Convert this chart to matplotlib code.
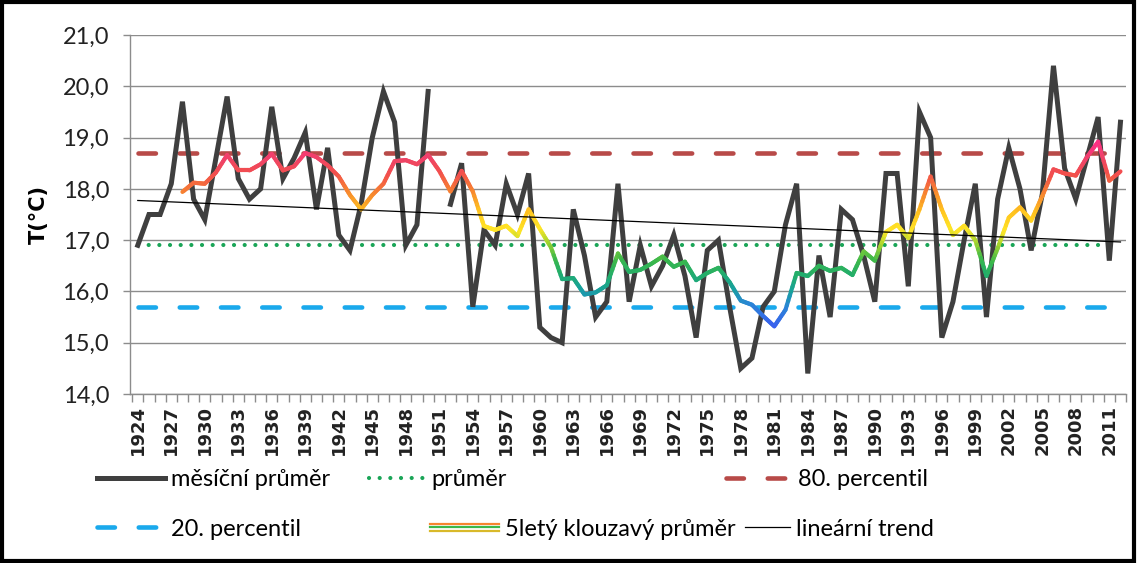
import matplotlib
matplotlib.use("Agg")
import matplotlib.pyplot as plt
import numpy as np
import pandas as pd
from matplotlib.collections import LineCollection
from matplotlib.colors import LinearSegmentedColormap
from matplotlib.legend_handler import HandlerBase
from matplotlib.lines import Line2D
from matplotlib.patches import Rectangle
from matplotlib.ticker import FuncFormatter

plt.rcParams['font.family'] = ['Lato', 'DejaVu Sans']

# data
years = list(range(1924, 2013))
temps = [16.9, 17.5, 17.5, 18.1, 19.7, 17.8, 17.4, 18.6, 19.8, 18.2,   # 1924-1933
         17.8, 18.0, 19.6, 18.2, 18.6, 19.1, 17.6, 18.8, 17.1, 16.8,   # 1934-1943
         17.7, 19.0, 19.9, 19.3, 16.9, 17.3, 19.9, np.nan, 17.7, 18.5,  # 1944-1953
         15.7, 17.2, 16.9, 18.1, 17.5, 18.3, 15.3, 15.1, 15.0, 17.6,   # 1954-1963
         16.7, 15.5, 15.8, 18.1, 15.8, 16.9, 16.1, 16.5, 17.1, 16.3,   # 1964-1973
         15.1, 16.8, 17.0, 15.7, 14.5, 14.7, 15.7, 16.0, 17.3, 18.1,   # 1974-1983
         14.4, 16.7, 15.5, 17.6, 17.4, 16.7, 15.8, 18.3, 18.3, 16.1,   # 1984-1993
         19.5, 19.0, 15.1, 15.8, 17.0, 18.1, 15.5, 17.8, 18.8, 18.0,   # 1994-2003
         16.8, 17.9, 20.4, 18.4, 17.8, 18.6, 19.4, 16.6, 19.3]         # 2004-2012
mean_val = 16.9
p80_val = 18.7
p20_val = 15.7
ref_years = list(range(1924, 2012))
label_years = list(range(1924, 2012, 3))

s = pd.Series(temps, index=years)
# 5-year trailing moving average (blanks ignored, like AVERAGE in Excel)
ma = s.rolling(5, min_periods=1).mean()
ma.iloc[:4] = np.nan
ok = s.notna()
k, q = np.polyfit(np.array(years)[ok.values], s[ok].values, 1)
trend = k * np.array(years) + q

fig = plt.figure(figsize=(11.38, 5.63), dpi=100)
ax = fig.add_axes([0.1142, 0.3002, 0.8753, 0.6376])

grid_c = '#8c8c8c'
for v in range(14, 22):
    ax.axhline(v, color=grid_c, lw=1.0, zorder=0)

ones = np.ones(len(ref_years))
ax.plot(ref_years, ones * p20_val, color='#1aa9ec', lw=3.3,
        linestyle=(0, (3.8, 5.2)), dash_capstyle='round', zorder=2)
ax.plot(ref_years, ones * p80_val, color='#b84a48', lw=3.3,
        linestyle=(0, (3.8, 5.2)), dash_capstyle='round', zorder=2)
ax.plot(ref_years, ones * mean_val, color='#1aa557', lw=3.0,
        linestyle=(0, (0.01, 2.55)), dash_capstyle='round', zorder=2)

ax.plot(years, s.values, color='#3f3f3f', lw=3.6, solid_joinstyle='miter', zorder=3)

# gradient coloured moving average
cmap = LinearSegmentedColormap.from_list('ma', [
    (0.00, '#3a5ef0'), (0.12, '#2a86d6'), (0.20, '#17a19c'), (0.28, '#22ad6c'),
    (0.36, '#3cb84a'), (0.45, '#a6d52e'), (0.52, '#ffe627'), (0.62, '#ffc21f'),
    (0.72, '#f7862f'), (0.82, '#f2504c'), (0.90, '#ef4367'), (1.00, '#ff2d8a')])
lo, hi = 15.3, 18.95
mx = np.array(years, dtype=float)[ma.notna().values]
my = ma.dropna().values
segs, cols = [], []
for i in range(len(mx) - 1):
    xs = np.linspace(mx[i], mx[i + 1], 9)
    ys = np.linspace(my[i], my[i + 1], 9)
    for j in range(8):
        segs.append([(xs[j], ys[j]), (xs[j + 1], ys[j + 1])])
        cols.append(cmap((0.5 * (ys[j] + ys[j + 1]) - lo) / (hi - lo)))
lc = LineCollection(segs, colors=cols, linewidths=3.0, capstyle='round', zorder=4)
ax.add_collection(lc)

ax.plot(years, trend, color='black', lw=0.9, zorder=5)

ax.set_xlim(1923.3, 2012.5)
ax.set_ylim(14, 21)
ax.set_yticks(range(14, 22))
ax.yaxis.set_major_formatter(FuncFormatter(lambda v, p: f"{v:.1f}".replace('.', ',')))
ax.set_xticks(label_years)
ax.set_xticklabels([str(y) for y in label_years], rotation=90, fontsize=13,
                   fontweight='bold', family=['DejaVu Sans'], color='#222222')
ax.set_xticks(np.arange(1923.5, 2013, 1), minor=True)
ax.tick_params(axis='x', which='major', length=0, pad=8)
ax.tick_params(axis='x', which='minor', length=6, color=grid_c, width=1)
ax.tick_params(axis='y', length=5, color=grid_c, width=1, labelsize=17, pad=10,
               labelcolor='#222222')
for side in ['top', 'right']:
    ax.spines[side].set_visible(False)
for side in ['left', 'bottom']:
    ax.spines[side].set_color(grid_c)
    ax.spines[side].set_linewidth(1.0)
ax.set_ylabel('T(°C)', fontsize=15, fontweight='bold', family=['DejaVu Sans'], labelpad=10)


class GradientHandler(HandlerBase):
    def create_artists(self, legend, orig, xd, yd, w, h, fontsize, trans):
        out = []
        for off, c in [(2.2, '#f7862f'), (0.0, '#3cb84a'), (-2.2, '#d9b92a')]:
            out.append(Line2D([xd, xd + w], [h / 2 - yd + off] * 2, color=c, lw=1.6,
                              transform=trans))
        return out


grad_handle = Line2D([], [], color='#3cb84a')
entries = [
    (Line2D([], [], color='#3f3f3f', lw=3.6), 'měsíční průměr', 0.085, 0.148, 2.9),
    (Line2D([], [], color='#1aa557', lw=3.0, linestyle=(0, (0.01, 2.55)),
            dash_capstyle='round'), 'průměr', 0.324, 0.148, 2.4),
    (Line2D([], [], color='#b84a48', lw=3.3, linestyle=(0, (3.8, 5.2)),
            dash_capstyle='round'), '80. percentil', 0.638, 0.148, 2.8),
    (Line2D([], [], color='#1aa9ec', lw=3.3, linestyle=(0, (3.8, 5.2)),
            dash_capstyle='round'), '20. percentil', 0.085, 0.06, 2.9),
    (grad_handle, '5letý klouzavý průměr', 0.378, 0.06, 2.9),
    (Line2D([], [], color='black', lw=0.9), 'lineární trend', 0.655, 0.06, 1.9),
]
for h, lab, x, y, hl in entries:
    fig.legend(handles=[h], labels=[lab], loc='center left', bbox_to_anchor=(x, y),
               frameon=False, fontsize=17, handlelength=hl, handletextpad=0.25,
               borderaxespad=0, borderpad=0,
               handler_map={grad_handle: GradientHandler()})

fig.patches.append(Rectangle((0.0015, 0.003), 0.995, 0.994, transform=fig.transFigure,
                             fill=False, edgecolor='black', lw=3))

fig.savefig('out.png', dpi=100)
